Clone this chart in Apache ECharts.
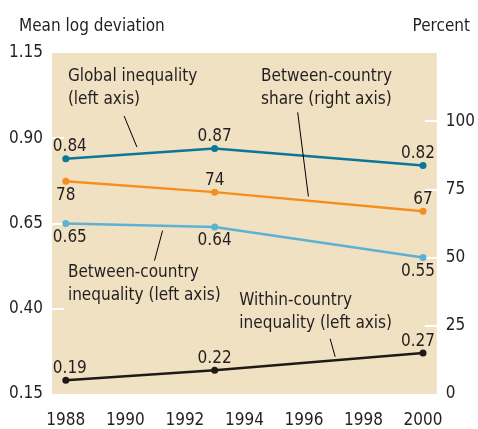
<!DOCTYPE html>
<html><head><meta charset="utf-8">
<script src="https://cdn.jsdelivr.net/npm/echarts@6/dist/echarts.min.js"></script>
<style>html,body{margin:0;padding:0;background:#fff}#c{width:478px;height:429px}</style>
</head><body><div id="c"></div>
<script>
const years = [1988, 1993, 2000];
const xTickLabels = [1988, 1990, 1992, 1994, 1996, 1998, 2000];
const leftTickLabels = [0.15, 0.40, 0.65, 0.90, 1.15];
const rightTickLabels = [0, 25, 50, 75, 100];
const globalInequality = [0.84, 0.87, 0.82];
const betweenShare = [78, 74, 67];
const betweenInequality = [0.65, 0.64, 0.55];
const withinInequality = [0.19, 0.22, 0.27];
const shareLabelPos = ['bottom', 'top', 'top'];

const FONT = '"Liberation Sans Narrow","Arial Narrow","DejaVu Sans Condensed",sans-serif';
const TXT = '#231f20';
const C_GLOBAL = '#0a7698';
const C_SHARE = '#f68e1f';
const C_BCI = '#5db2d3';
const C_WITHIN = '#1f1a17';

function pts(vals, pos, defPos, nudge) {
  return vals.map((v, i) => {
    const p = pos ? pos[i] : defPos;
    const dx = nudge ? (i === 0 ? 4 : (i === vals.length - 1 ? -5 : 0)) : 0;
    return {value: [years[i], v], label: {position: p, distance: p === 'top' ? 0 : 2, offset: [dx, 0]}};
  });
}
function lineSeries(name, vals, color, yIdx, pos, defPos) {
  return {
    name, type: 'line', yAxisIndex: yIdx, data: pts(vals, pos, defPos, yIdx === 0),
    symbol: 'circle', symbolSize: 7, showSymbol: true,
    itemStyle: {color}, lineStyle: {color, width: 2.5},
    label: {show: true, color: TXT, fontSize: 17, fontFamily: FONT,
      formatter: p => yIdx === 0 ? p.value[1].toFixed(2) : String(p.value[1])},
    z: 3
  };
}

const chart = echarts.init(document.getElementById('c'), null, {renderer: 'canvas'});
chart.setOption({
  animation: false,
  backgroundColor: '#ffffff',
  title: [
    {text: 'Mean log deviation', left: 14, top: 13, textStyle: {color: TXT, fontSize: 17, fontWeight: 'normal', fontFamily: FONT}},
    {text: 'Percent', right: 3, top: 13, textStyle: {color: TXT, fontSize: 17, fontWeight: 'normal', fontFamily: FONT}}
  ],
  grid: {left: 52, right: 36, top: 53, bottom: 34, show: true, backgroundColor: '#f0e1c3', borderWidth: 0},
  xAxis: {
    type: 'value', min: 1987.536, max: 2000.464,
    axisLine: {show: false}, axisTick: {show: false}, splitLine: {show: false},
    axisLabel: {customValues: xTickLabels, color: TXT, fontSize: 17, fontFamily: FONT, margin: 18, formatter: v => String(v)}
  },
  yAxis: [
    {type: 'value', min: 0.15, max: 1.15, interval: 0.25, position: 'left',
      axisLine: {show: false}, splitLine: {show: false},
      axisTick: {show: true, inside: true, length: 12, customValues: [0.40, 0.65, 0.90], lineStyle: {color: '#ffffff', width: 2}},
      axisLabel: {customValues: leftTickLabels, color: TXT, fontSize: 17, fontFamily: FONT, margin: 9, formatter: v => v.toFixed(2)}},
    {type: 'value', min: 0, max: 125, interval: 25, position: 'right',
      axisLine: {show: false}, splitLine: {show: false},
      axisTick: {show: true, inside: true, length: 12, customValues: [25, 50, 75, 100], lineStyle: {color: '#ffffff', width: 2}},
      axisLabel: {customValues: rightTickLabels, color: TXT, fontSize: 17, fontFamily: FONT, margin: 9, formatter: v => String(v)}}
  ],
  series: [
    lineSeries('Global inequality', globalInequality, C_GLOBAL, 0, null, 'top'),
    lineSeries('Between-country share', betweenShare, C_SHARE, 1, shareLabelPos, 'top'),
    lineSeries('Between-country inequality', betweenInequality, C_BCI, 0, null, 'bottom'),
    lineSeries('Within-country inequality', withinInequality, C_WITHIN, 0, null, 'top')
  ]
});

// Annotations anchored in data coordinates (year, left-axis value)
const notes = [
  {text: 'Global inequality\n(left axis)', at: [1988.07, 1.115], line: [[1989.96, 0.965], [1990.39, 0.874]]},
  {text: 'Between-country\nshare (right axis)', at: [1994.56, 1.115], line: [[1995.79, 0.976], [1996.15, 0.729]]},
  {text: 'Between-country\ninequality (left axis)', at: [1988.07, 0.541], line: [[1991.25, 0.629], [1990.98, 0.541]]},
  {text: 'Within-country\ninequality (left axis)', at: [1993.83, 0.459], line: [[1996.88, 0.312], [1997.05, 0.259]]}
];
const toPx = p => chart.convertToPixel({xAxisIndex: 0, yAxisIndex: 0}, p);
const g = [];
notes.forEach(n => {
  const a = toPx(n.at);
  g.push({type: 'text', x: a[0], y: a[1], z: 10,
    style: {text: n.text, fill: TXT, fontSize: 17, fontFamily: FONT, lineHeight: 23, align: 'left', verticalAlign: 'top'}});
  const p1 = toPx(n.line[0]), p2 = toPx(n.line[1]);
  g.push({type: 'line', z: 10, shape: {x1: p1[0], y1: p1[1], x2: p2[0], y2: p2[1]}, style: {stroke: '#000', lineWidth: 1}});
});
chart.setOption({graphic: g});
</script></body></html>
